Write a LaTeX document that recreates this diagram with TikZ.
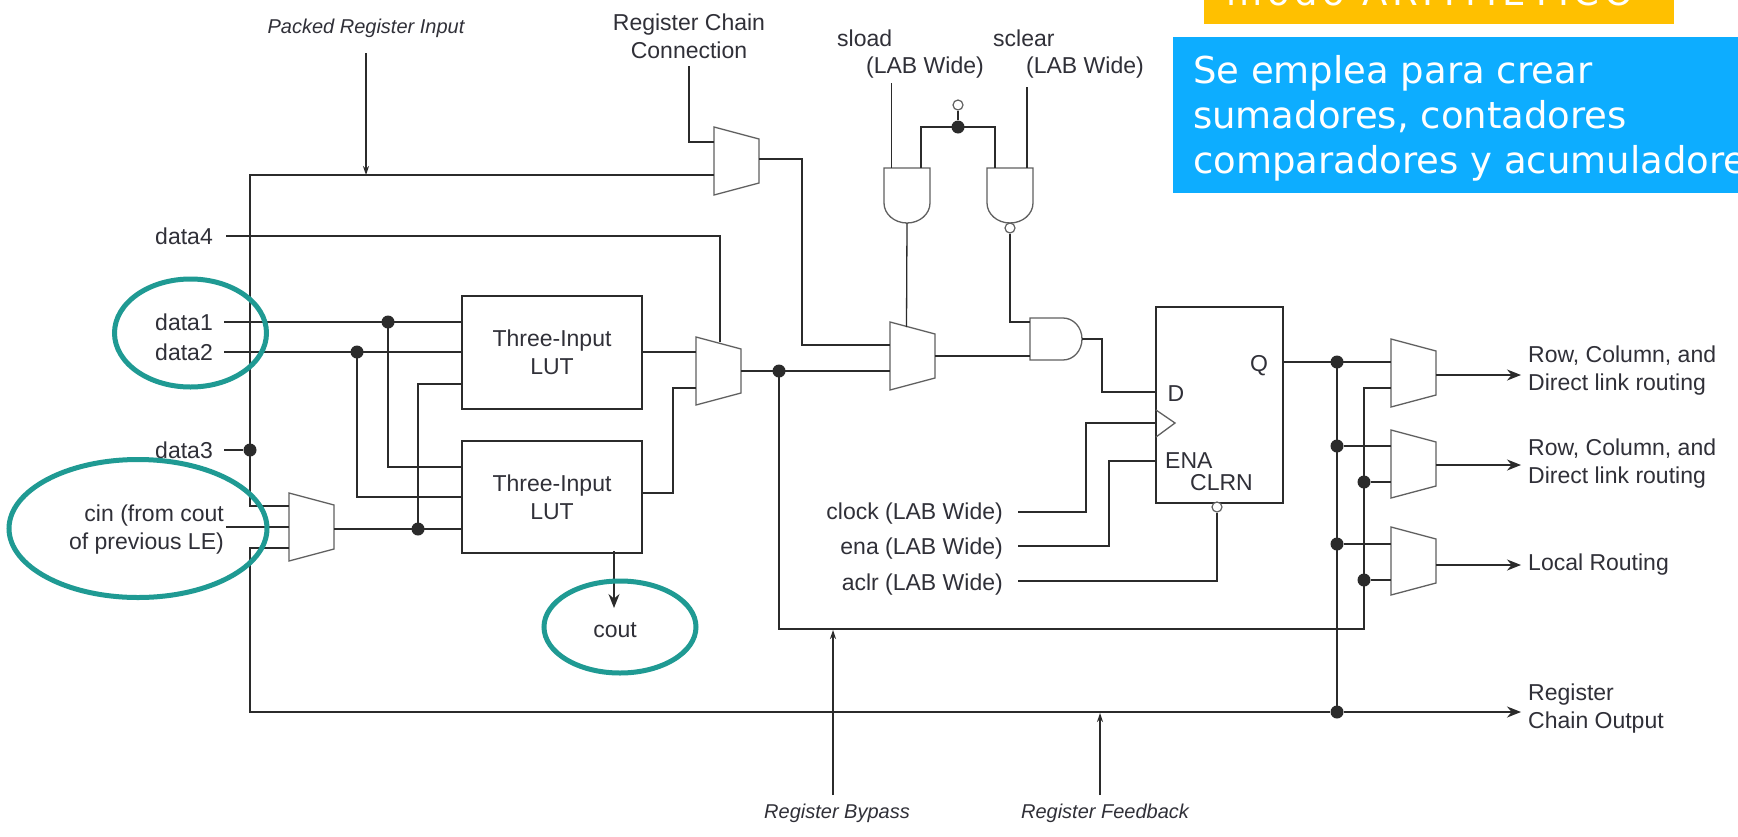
\documentclass[tikz,border=0pt]{standalone}
\usepackage{fontspec}
\setmainfont{Liberation Sans}
\newfontfamily\slidefont{DejaVu Sans}
\usetikzlibrary{arrows.meta,calc}
\definecolor{inkwire}{HTML}{2B2B2B}
\definecolor{inktext}{HTML}{303038}
\definecolor{ringteal}{HTML}{1F9A93}
\definecolor{titleamber}{HTML}{FFC000}
\definecolor{noteblue}{HTML}{0DADFF}
\tikzset{
  wire/.style = {draw=inkwire, line width=1.6pt, line join=miter},
  thinwire/.style = {draw=inkwire, line width=1.3pt},
  muxline/.style = {draw=inkwire!75, line width=1.3pt},
  lbl/.style = {inner sep=0pt, text=inktext, font=\fontsize{23}{28}\selectfont},
  one/.style = {lbl, text height=19pt, text depth=3pt},
  note/.style = {lbl, font=\fontsize{20}{24}\selectfont\itshape, text height=17pt, text depth=3pt},
  blockbox/.style = {draw=inkwire, line width=1.6pt, inner sep=0pt, align=center, text=inktext, font=\fontsize{23}{28}\selectfont},
  junction/.style = {circle, fill=inkwire, draw=none, inner sep=0pt, minimum size=13pt},
  bubble/.style = {circle, fill=white, draw=inkwire!75, line width=1.2pt, inner sep=0pt, minimum size=10pt},
  ring/.style = {draw=ringteal, line width=5pt},
  tipsmall/.style = {-{Stealth[length=9pt,width=6pt]}},
  tipbig/.style = {-{Stealth[length=14pt,width=11pt]}},
}
\begin{document}
\begin{tikzpicture}[x=1pt,y=-1pt]
  \clip (0,0) rectangle (1738,836);
  \fill[white] (0,0) rectangle (1738,836);
  % slide boxes
  \fill[titleamber] (1204,-2) rectangle (1674,24);
  \fill[noteblue] (1173,37) rectangle (1740,193);
  \node[anchor=base west,inner sep=0pt,text=white,font=\fontsize{37}{37}\slidefont\addfontfeature{LetterSpace=13}] (title) at (1226,5) {modo ARITMETICO};
  \node[anchor=west,inner sep=0pt,text=white,align=left,font=\fontsize{37}{45}\slidefont] (usage) at (1193,118) {Se emplea para crear\\sumadores, contadores\\comparadores y acumuladores};
  % blocks
  \node[blockbox,minimum width=180pt,minimum height=113pt] (lutA) at (552,352.5) {Three-Input\\LUT};
  \node[blockbox,minimum width=180pt,minimum height=112pt] (lutB) at (552,497) {Three-Input\\LUT};
  \node[blockbox,minimum width=127pt,minimum height=196pt] (ff) at (1219.5,405) {};
  % muxes
  \foreach \name/\X/\Y/\Yo in {regmux/714/127/159,lutmux/696/337/371,cinmux/289/493/529,ffmux/890/322/356,rowA/1391/339/375,rowB/1391/430/465,localmux/1391/527/565} {%
    \draw[muxline] (\X,\Y) -- ++(45,12) -- ++(0,44) -- ++(-45,12) -- cycle;
    \coordinate (\name) at (\X,\Yo);
    \coordinate (\name-o) at (\X+45,\Yo);
  }
  % gates
  \foreach \name/\X in {gateA/884,gateB/987} {%
    \draw[muxline] (\X,203) -- (\X,168) -- ++(46,0) -- ++(0,35) arc[start angle=0,end angle=-180,x radius=23pt,y radius=20pt];
    \coordinate (\name-o) at (\X+23,223);
  }
  \draw[muxline] (1063,360) -- (1030,360) -- (1030,318) -- (1063,318) arc[start angle=90,end angle=-90,x radius=19pt,y radius=21pt];
  \draw[muxline] (1156,410) -- (1175,423) -- (1156,437);
  % junctions
  \foreach \name/\pos in {j1/{388,322},j2/{357,352},j3/{418,529},j4/{779,371},j5/{1364,482},j6/{1364,580},j7/{1337,362},j8/{1337,446},j9/{1337,544},j10/{1337,712},j11/{958,127},j12/{250,450}} {%
    \node[junction] (\name) at (\pos) {};
  }
  \node[bubble] (bubA) at (958,105) {};
  \node[bubble] (bubB) at (1010,228) {};
  \node[bubble] (bubC) at (1217,507) {};
  % labels
  \node[note,anchor=center] (packed) at (366,26) {Packed Register Input};
  \node[lbl,align=center] (chainconn) at (689,36) {Register Chain\\Connection};
  \node[one,anchor=west] (sload) at (837,38) {sload};
  \node[one,anchor=west] (sloadw) at (866,65) {(LAB Wide)};
  \node[one,anchor=west] (sclear) at (993,38) {sclear};
  \node[one,anchor=west] (sclearw) at (1026,65) {(LAB Wide)};
  \foreach \name/\Y/\txt in {data4/236/data4,data1/322/data1,data2/352/data2,data3/450/data3} {%
    \node[one,anchor=east] (\name) at (213,\Y) {\txt};
  }
  \node[lbl,anchor=east,align=right] (cin) at (224,530) {cin (from cout\\of previous LE)};
  \node[one] (cout) at (615,629) {cout};
  \foreach \name/\Y/\txt in {clock/511/clock,ena/546/ena,aclr/582/aclr} {%
    \node[one,anchor=east] (\name) at (1003,\Y) {\txt{} (LAB Wide)};
  }
  \node[one] (qpin) at (1259,363) {Q};
  \node[one] (dpin) at (1176,393) {D};
  \node[one,anchor=west] (enapin) at (1165,460) {ENA};
  \node[one,anchor=west] (clrnpin) at (1190,482) {CLRN};
  \node[lbl,anchor=west,align=left] (outA) at (1528,371) {Row, Column, and\\Direct link routing};
  \node[lbl,anchor=west,align=left] (outB) at (1528,464) {Row, Column, and\\Direct link routing};
  \node[one,anchor=west] (outC) at (1528,562) {Local Routing};
  \node[lbl,anchor=west,align=left] (outD) at (1528,709) {Register\\Chain Output};
  \node[note] (bypass) at (837,811) {Register Bypass};
  \node[note] (feedback) at (1105,811) {Register Feedback};
  % points
  \coordinate (ctop) at (250,175);
  \coordinate (cmid) at (250,506);
  \coordinate (clow) at (250,548);
  \coordinate (cbot) at (250,712);
  \coordinate (packedA) at (366,53);
  \coordinate (packedB) at (366,175);
  \coordinate (rccA) at (689,66);
  \coordinate (rccB) at (689,142);
  \coordinate (fbk) at (802,345);
  \coordinate (d4A) at (226,236);
  \coordinate (d4B) at (720,342);
  \coordinate (d1A) at (224,322);
  \coordinate (d2A) at (224,352);
  \coordinate (d3A) at (224,450);
  \coordinate (a1) at (462,467);
  \coordinate (a2) at (462,497);
  \coordinate (a3) at (462,384);
  \coordinate (cinA) at (226,527);
  \coordinate (b1) at (642,493);
  \coordinate (b2) at (673,388);
  \coordinate (coutA) at (614,551);
  \coordinate (coutB) at (614,608);
  \coordinate (byp) at (1364,629);
  \coordinate (rowin) at (1364,388);
  \coordinate (sl) at (891.5,83);
  \coordinate (sc) at (1027,87);
  \coordinate (gtop) at (884,168);
  \coordinate (hl) at (921,127);
  \coordinate (hr) at (995,127);
  \coordinate (ffsel) at (906.5,327);
  \coordinate (ag) at (1030,322);
  \coordinate (agB) at (1030,356);
  \coordinate (agout) at (1082,339);
  \coordinate (cp) at (1102,365);
  \coordinate (ffd) at (1156,392);
  \coordinate (clkA) at (1018,512);
  \coordinate (clkB) at (1086,423);
  \coordinate (enA) at (1018,546);
  \coordinate (enB) at (1109,461);
  \coordinate (clA) at (1018,581);
  \coordinate (exitA) at (1521,375);
  \coordinate (exitB) at (1521,465);
  \coordinate (exitC) at (1521,565);
  \coordinate (exitD) at (1521,712);
  \coordinate (bypA) at (833,795);
  \coordinate (bypB) at (833,630);
  \coordinate (fedA) at (1100,795);
  \coordinate (fedB) at (1100,713);
  % chain
  \draw[thinwire] (regmux |- ctop) -- (ctop) -- (cmid) -- (cinmux |- cmid);
  \draw[thinwire] (cinmux |- clow) -- (clow) -- (cbot) -- (j10);
  \draw[wire,tipbig] (j10) -- (exitD);
  \draw[thinwire,tipsmall] (packedA) -- (packedB);
  \draw[wire] (rccA) -- (rccB) -- (regmux |- rccB);
  \draw[wire] (regmux-o) -| (fbk) -- (ffmux |- fbk);
  % inputs
  \draw[wire] (d4A) -| (d4B);
  \draw[wire] (d1A) -- (lutA.west |- d1A);
  \draw[wire] (d2A) -- (lutA.west |- d2A);
  \draw[wire] (d3A) -- (j12);
  \draw[thinwire] (j1.center) |- (a1);
  \draw[thinwire] (j2.center) |- (a2);
  \draw[thinwire] (a3) -| (j3.center);
  \draw[wire] (cinA) -- (cinmux |- cinA);
  \draw[wire] (cinmux-o) -- (lutB.west |- cinmux-o);
  % lut outputs
  \draw[wire] (lutA.east |- d2A) -- (lutmux |- d2A);
  \draw[wire] (b1) -| (b2) -- (lutmux |- b2);
  \draw[wire] (lutmux-o) -- (ffmux |- lutmux-o);
  \draw[thinwire,tipbig] (coutA) -- (coutB);
  % bypass
  \draw[wire] (j4.center) |- (byp) -- (rowin) -- (rowA |- rowin);
  \draw[wire] (j5) -- (rowB |- j5);
  \draw[wire] (j6) -- (localmux |- j6);
  \draw[thinwire,tipsmall] (bypA) -- (bypB);
  \draw[thinwire,tipsmall] (fedA) -- (fedB);
  % sload and sclear
  \draw[thinwire] (sl) -- (sl |- gtop);
  \draw[thinwire] (sc) -- (sc |- gtop);
  \draw[wire] (hl |- gtop) -- (hl) -- (hr) -- (hr |- gtop);
  \draw[thinwire] (j11) -- (bubA);
  \draw[thinwire] (gateA-o) -- (ffsel);
  \draw[thinwire] (bubB) |- (ag);
  \draw[wire] (ffmux-o) -- (agB);
  \draw[wire] (agout) -| (cp) |- (ffd);
  % register pins
  \draw[wire] (clkA) -| (clkB) -- (ff.west |- clkB);
  \draw[wire] (enA) -| (enB) -- (ff.west |- enB);
  \draw[wire] (clA) -| (bubC);
  % register outputs
  \draw[wire] (ff.east |- j7) -- (rowA |- j7);
  \draw[thinwire] (j7.center) -- (j10.center);
  \draw[wire] (j8) -- (rowB |- j8);
  \draw[wire] (j9) -- (localmux |- j9);
  \draw[wire,tipbig] (rowA-o) -- (exitA);
  \draw[wire,tipbig] (rowB-o) -- (exitB);
  \draw[wire,tipbig] (localmux-o) -- (exitC);
  % rings
  \draw[ring] (190.5,333) ellipse[x radius=76pt,y radius=54pt];
  \draw[ring] (138,528.5) ellipse[x radius=129pt,y radius=69pt];
  \draw[ring] (620,627) ellipse[x radius=76pt,y radius=46pt];
\end{tikzpicture}
\end{document}
